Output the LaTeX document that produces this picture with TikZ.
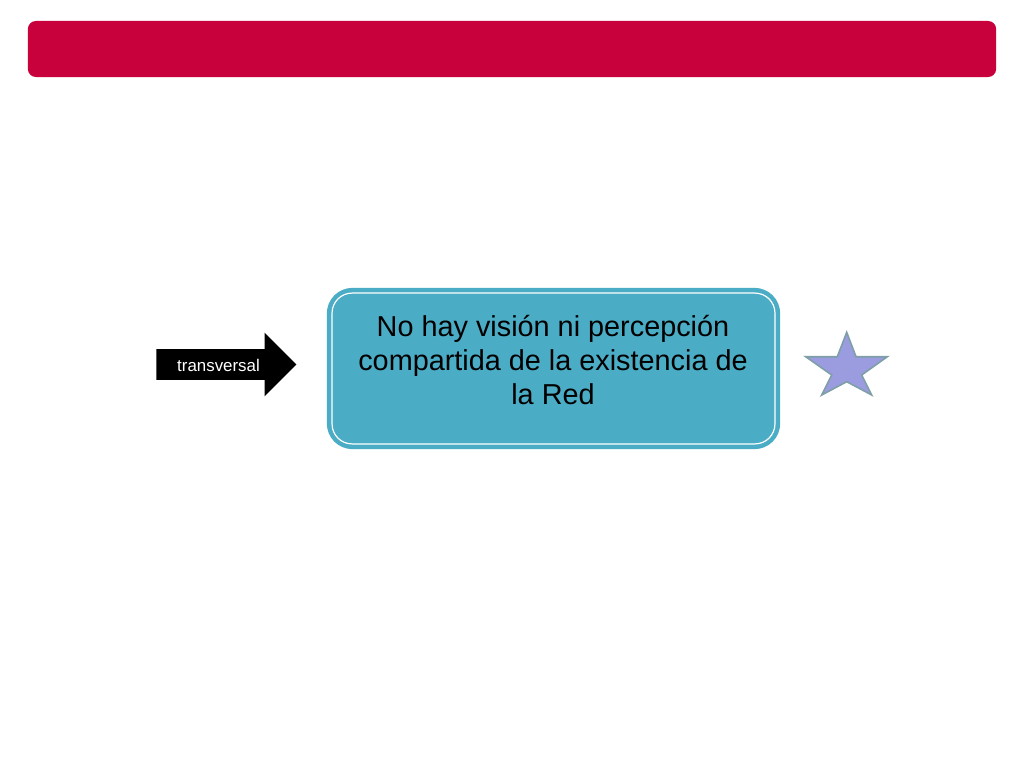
\documentclass[tikz,border=0pt]{standalone}
\usepackage{fontspec}
\setmainfont{Liberation Sans}
\usetikzlibrary{shapes.arrows,calc}
\definecolor{barred}{HTML}{C8003C}
\definecolor{boxteal}{HTML}{4BACC6}
\definecolor{starfill}{HTML}{9B9BE0}
\definecolor{starline}{HTML}{7F9FA8}
\begin{document}
\begin{tikzpicture}[x=0.025cm, y=-0.025cm,
    mainbox/.style={rectangle, rounded corners=0.6cm, fill=boxteal, draw=boxteal, line width=0.08cm,
        minimum width=11.25cm, minimum height=3.95cm},
    maintext/.style={align=center, font=\fontsize{20.5}{24.5}\selectfont}]
    \useasboundingbox (0,0) rectangle (1024,768);
    \node[rectangle, rounded corners=0.2cm, fill=barred, minimum width=24.2cm, minimum height=1.4cm, inner sep=0pt] (bar) at (512,49) {};
    \node[mainbox] (box) at (553.5,368.5) {};
    \draw[white, line width=0.03cm, rounded corners=0.5cm] ([shift={(0.13cm,0.13cm)}]box.south west) rectangle ([shift={(-0.13cm,-0.13cm)}]box.north east);
    \node[maintext] (txt) at (553,360) {No hay visión ni percepción\\compartida de la existencia de\\la Red};
    \node[single arrow, fill=black, inner sep=0pt, minimum height=3.5cm, minimum width=1.575cm,
        single arrow head extend=0.4125cm, single arrow tip angle=90, text height=0.55cm, text depth=0.2cm,
        text width=2.7cm, anchor=west] (arr) at (156,364.5) {};
    \node[text=white, font=\fontsize{12}{14}\selectfont] (lbl) at (218.5,365) {transversal};
    \coordinate (st) at (846.7,366);
    \draw[fill=starfill, draw=starline, line width=0.04cm]
        ($(st)+(0,-33.7)$) -- ($(st)+(9.3,-9.3)$) -- ($(st)+(40.6,-9.3)$) -- ($(st)+(15,9)$)
        -- ($(st)+(25,29)$) -- ($(st)+(0,15.7)$) -- ($(st)+(-25,29)$) -- ($(st)+(-15,9)$)
        -- ($(st)+(-41,-9.3)$) -- ($(st)+(-9.4,-9.3)$) -- cycle;
\end{tikzpicture}
\end{document}
